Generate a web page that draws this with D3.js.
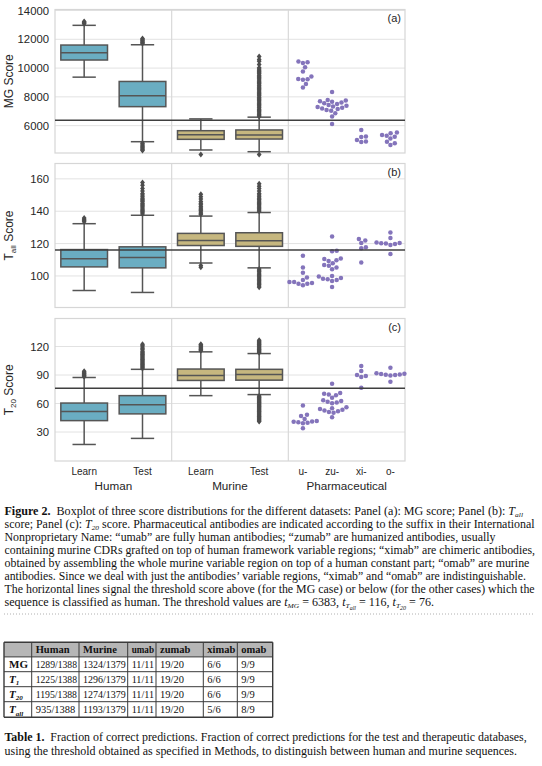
<!DOCTYPE html>
<html>
<head>
<meta charset="utf-8">
<script src="https://cdn.jsdelivr.net/npm/d3@7"></script>
<style>
  body { margin: 0; background: #fff; }
  svg { display: block; }
  text { white-space: pre; }
</style>
</head>
<body>
<script>
// ---- data ----
const groups = ["Human", "Murine", "Pharmaceutical"];
const groupCats = [["Learn", "Test"], ["Learn", "Test"], ["u-", "zu-", "xi-", "o-"]];

// box stats: [whisker low, q1, median, q3, whisker high] for Human Learn, Human Test, Murine Learn, Murine Test
const mgStats = [[9370, 10560, 11070, 11600, 12970], [4885, 7320, 8070, 9070, 11620],
                 [4310, 5050, 5370, 5650, 6470], [4190, 5070, 5350, 5700, 6590]];
const mgOutliers = [
  [13080, 13130, 13180, 13230],
  [11700, 11760, 11820, 11880, 11940, 12000, 12050, 4800, 4720, 4640, 4560, 4480, 4400, 4330, 4270],
  [3990],
  [6640, 6720, 6800, 6880, 6960, 7050, 7130, 7220, 7300, 7390, 7470, 7560, 7640, 7730, 7810, 7900, 7980,
   8070, 8150, 8240, 8320, 8410, 8490, 8580, 8660, 8750, 8830, 8920, 9000, 9090, 9170, 9260, 9340, 9430,
   9510, 9600, 9680, 9770, 9850, 9940, 10020, 10250, 10480, 10600, 10800, 3990]
];
// pharmaceutical antibodies: u-, zu-, xi-, o-
const mgPharma = [
  [10450, 10400, 10350, 10050, 9760, 9420, 9240, 9230, 9190, 8900, 8650],
  [8330, 7780, 7740, 7700, 7660, 7610, 7560, 7500, 7440, 7380, 7330, 7290, 7250, 7200, 7150, 7090, 7030, 6870, 6630, 6120],
  [5700, 5250, 5220, 5000, 4900, 4870],
  [5520, 5480, 5350, 5300, 5230, 5100, 4880, 4780, 4660]
];

const tallStats = [[91, 105.6, 110.6, 116.3, 132.3], [89.8, 105, 111.4, 118, 137.5],
                   [108, 118.8, 121.9, 126.3, 137], [105, 118.3, 121.7, 126.7, 139.2]];
const tallOutliers = [
  [133.5, 134.3, 135, 135.8],
  [138.3, 139, 139.8, 140.5, 141.3, 142, 142.8, 143.5, 144.3, 145, 145.8, 146.5, 147.3, 148, 149, 150, 151,
   152.5, 154, 156, 157.8],
  [138, 138.8, 139.6, 140.4, 141.2, 142, 143, 144, 145, 146, 147.5, 149, 150.5, 106.5, 105.3],
  [140, 140.8, 141.6, 142.4, 143.2, 144, 144.8, 145.6, 146.4, 147.2, 148, 149, 150, 151, 152.5, 154, 155.5, 157,
   104.3, 103.5, 102.7, 101.9, 101.1, 100.3, 99.5, 98.7, 97.9, 97.1, 96.3, 95.5, 94.7, 93.8, 93]
];
const tallPharma = [
  [96.3, 95.2, 99, 94.2, 96.3, 97.5, 95.2, 95.6, 105.2, 102, 112.5],
  [124.4, 115.6, 115.2, 109.7, 110.8, 109.3, 110.4, 107.9, 106.3, 105.2, 106.7, 104.2, 98.3, 99.6, 97.5, 98.7, 96.9, 100, 97.9, 93.1],
  [121.9, 122.9, 120.4, 117.7, 117.1, 108.3],
  [120.4, 119.8, 119.2, 120.2, 120.6, 126.9, 123.5, 113.5, 120]
];

const t20Stats = [[16.9, 42, 51.6, 60.5, 87.4], [23.3, 49.1, 58.7, 68.3, 96],
                  [68.3, 84.3, 89.6, 96.3, 114.4], [69.4, 84.6, 90.6, 96, 112.6]];
const t20Outliers = [
  [88.3, 89.2, 90.1, 91, 92, 93, 94],
  [97, 98, 99, 100, 101, 102, 103, 104, 105, 106, 107, 108, 109, 110, 111, 112, 113, 114, 115, 116.5, 118,
   119.5, 121, 122.5],
  [115.5, 116.5, 117.5, 118.5, 119.5, 120.5, 121.5, 122.5],
  [113.5, 114.5, 115.5, 116.5, 117.5, 118.5, 119.5, 120.5, 121.5, 122.5, 123.5, 124.5, 125.5, 126.5,
   68, 67, 66, 65, 64, 63, 62, 61, 60, 59, 58, 57, 56, 55, 54, 53, 52, 51, 50, 49, 48, 47, 46, 45, 44, 43, 42, 41]
];
const t20Pharma = [
  [41.7, 48.1, 40.3, 58, 47, 43.8, 39.2, 33.9, 40.8, 39.8, 41.2],
  [80.7, 71, 70.2, 69.5, 68.8, 63.5, 62.6, 61.8, 61, 60.2, 56, 55, 54.2, 53.4, 52.6, 51.8, 51, 50.2, 45.5, 66],
  [99.5, 94.2, 88.9, 89.9, 87.8, 76.5],
  [91.4, 90.6, 89.6, 89.9, 91.8, 97.7, 82.8, 90.2, 91]
];

const mgTicks = [6000, 8000, 10000, 12000, 14000];
const tallTicks = [100, 120, 140, 160];
const t20Ticks = [30, 60, 90, 120];
const thresholds = [6383, 116, 76];

const tableCols = ["", "Human", "Murine", "umab", "zumab", "ximab", "omab"];
const tableValues = [
  ["1289/1388", "1324/1379", "11/11", "19/20", "6/6", "9/9"],
  ["1225/1388", "1296/1379", "11/11", "19/20", "6/6", "9/9"],
  ["1195/1388", "1274/1379", "11/11", "19/20", "6/6", "9/9"],
  ["935/1388", "1193/1379", "11/11", "19/20", "5/6", "8/9"]
];

// ---- layout ----
const W = 542, H = 766;
const left = 55, right = 405;
const sans = "'Liberation Sans', Arial, sans-serif";
const serif = "'Liberation Serif', 'Times New Roman', serif";
const boxColors = ["#6aadc2", "#c6b77f"];
const pharmaColor = "#8474bb";
const lineColor = "#555555";

const svg = d3.select("body").append("svg")
    .attr("width", W)
    .attr("height", H);

const xGroup = d3.scaleBand().domain(groups).range([left, right]);
const xCats = groups.map((g, i) => d3.scaleBand()
    .domain(groupCats[i])
    .range([xGroup(g), xGroup(g) + xGroup.bandwidth()]));

const panels = [
  {label: "(a)", title: ["MG Score"], stats: mgStats, outliers: mgOutliers, pharma: mgPharma,
   domain: [4100, 14070], ticks: mgTicks, top: 9.5, bottom: 153},
  {label: "(b)", title: ["T", "all", " Score"], stats: tallStats, outliers: tallOutliers, pharma: tallPharma,
   domain: [80.5, 169.5], ticks: tallTicks, top: 163.5, bottom: 307.5},
  {label: "(c)", title: ["T", "20", " Score"], stats: t20Stats, outliers: t20Outliers, pharma: t20Pharma,
   domain: [-0.5, 149.5], ticks: t20Ticks, top: 318.5, bottom: 461}
];

// simple beeswarm: place each point as close to the centre as possible without overlap
function swarm(values, cx, y, r) {
  const placed = [];
  values.slice().sort((a, b) => a - b).forEach(v => {
    const py = y(v);
    const cands = [cx];
    placed.forEach(p => {
      const dy = Math.abs(p.y - py);
      if (dy < 2 * r) {
        const dx = Math.sqrt(4 * r * r - dy * dy);
        cands.push(p.x + dx, p.x - dx);
      }
    });
    cands.sort((a, b) => Math.abs(a - cx) - Math.abs(b - cx));
    const x = cands.find(c => placed.every(p => (p.x - c) ** 2 + (p.y - py) ** 2 >= 4 * r * r - 0.01));
    placed.push({x: x, y: py});
  });
  return placed;
}

panels.forEach((p, pi) => {
  const y = d3.scaleLinear().domain(p.domain).range([p.bottom, p.top]);
  const g = svg.append("g");

  // grid
  g.selectAll(".grid").data(p.ticks).enter().append("line")
      .attr("x1", left).attr("x2", right)
      .attr("y1", d => y(d)).attr("y2", d => y(d))
      .attr("stroke", "#e2e2e2").attr("stroke-width", 1);
  g.selectAll(".sep").data(groups.slice(1)).enter().append("line")
      .attr("x1", d => xGroup(d)).attr("x2", d => xGroup(d))
      .attr("y1", p.top).attr("y2", p.bottom)
      .attr("stroke", "#d9d9d9").attr("stroke-width", 1.2);
  g.append("rect")
      .attr("x", left).attr("y", p.top)
      .attr("width", right - left).attr("height", p.bottom - p.top)
      .attr("fill", "none").attr("stroke", "#d6d6d6").attr("stroke-width", 1.2);

  // boxes for Human and Murine
  p.stats.forEach((s, i) => {
    const gi = Math.floor(i / 2);
    const xs = xCats[gi];
    const cat = groupCats[gi][i % 2];
    const cx = xs(cat) + xs.bandwidth() / 2;
    const bw = xs.bandwidth() * 0.8;
    const bg = g.append("g");
    bg.append("line").attr("x1", cx).attr("x2", cx).attr("y1", y(s[0])).attr("y2", y(s[1]))
        .attr("stroke", lineColor).attr("stroke-width", 1.5);
    bg.append("line").attr("x1", cx).attr("x2", cx).attr("y1", y(s[3])).attr("y2", y(s[4]))
        .attr("stroke", lineColor).attr("stroke-width", 1.5);
    [s[0], s[4]].forEach(v => bg.append("line")
        .attr("x1", cx - bw / 4).attr("x2", cx + bw / 4).attr("y1", y(v)).attr("y2", y(v))
        .attr("stroke", lineColor).attr("stroke-width", 1.5));
    bg.append("rect")
        .attr("x", cx - bw / 2).attr("y", y(s[3]))
        .attr("width", bw).attr("height", y(s[1]) - y(s[3]))
        .attr("fill", boxColors[gi]).attr("stroke", lineColor).attr("stroke-width", 1.5);
    bg.append("line").attr("x1", cx - bw / 2).attr("x2", cx + bw / 2).attr("y1", y(s[2])).attr("y2", y(s[2]))
        .attr("stroke", lineColor).attr("stroke-width", 1.5);
    bg.selectAll("path").data(p.outliers[i]).enter().append("path")
        .attr("d", "M0,-3L2.4,0L0,3L-2.4,0Z")
        .attr("transform", d => "translate(" + cx + "," + y(d) + ")")
        .attr("fill", "#4d4d4d");
  });

  // swarm points for pharmaceutical antibodies
  const xp = xCats[2];
  p.pharma.forEach((vals, k) => {
    const cx = xp(groupCats[2][k]) + xp.bandwidth() / 2;
    g.append("g").selectAll("circle").data(swarm(vals, cx, y, 2.35)).enter().append("circle")
        .attr("cx", d => d.x).attr("cy", d => d.y).attr("r", 2.25)
        .attr("fill", pharmaColor);
  });

  // threshold
  g.append("line")
      .attr("x1", left).attr("x2", right)
      .attr("y1", y(thresholds[pi])).attr("y2", y(thresholds[pi]))
      .attr("stroke", "#3f3f3f").attr("stroke-width", 1.5);

  // y axis
  const ax = g.append("g")
      .attr("transform", "translate(" + left + ",0)")
      .call(d3.axisLeft(y).tickValues(p.ticks).tickFormat(d3.format("d")).tickSize(0).tickPadding(6));
  ax.select(".domain").remove();
  ax.selectAll("text").attr("font-family", sans).attr("font-size", "11.3px").attr("fill", "#262626");

  // y label
  const yl = g.append("text")
      .attr("transform", "translate(13.3," + (p.top + p.bottom) / 2 + ") rotate(-90)")
      .attr("text-anchor", "middle")
      .attr("font-family", sans).attr("font-size", "12px").attr("fill", "#262626");
  if (p.title.length === 1) {
    yl.text(p.title[0]);
  } else {
    yl.append("tspan").text(p.title[0]);
    yl.append("tspan").attr("font-size", "8px").attr("dy", 3).text(p.title[1]);
    yl.append("tspan").attr("dy", -3).text(p.title[2]);
  }

  // panel label
  g.append("text")
      .attr("x", 401).attr("y", p.top + 12.5)
      .attr("text-anchor", "end")
      .attr("font-family", sans).attr("font-size", "11px").attr("fill", "#262626")
      .text(p.label);
});

// x tick labels and group labels
const xl = svg.append("g").attr("font-family", sans).attr("fill", "#262626");
groups.forEach((gname, gi) => {
  const xs = xCats[gi];
  groupCats[gi].forEach(c => {
    xl.append("text")
        .attr("x", xs(c) + xs.bandwidth() / 2).attr("y", 474.5)
        .attr("text-anchor", "middle").attr("font-size", "10px")
        .text(c);
  });
  xl.append("text")
      .attr("x", xGroup(gname) + xGroup.bandwidth() / 2).attr("y", 490)
      .attr("text-anchor", "middle").attr("font-size", "11.7px")
      .text(gname);
});

// ---- captions ----
function richLine(parent, segs, x, yb, size, endX) {
  const t = parent.append("text")
      .attr("x", x).attr("y", yb)
      .attr("font-family", serif).attr("font-size", size + "px").attr("fill", "#111");
  const shifts = {"": 0, b: 0, i: 0, isub: 2, isub2: 3.5};
  let cur = 0;
  segs.forEach(s => {
    const st = s[1] || "";
    const target = shifts[st];
    const ts = t.append("tspan").text(s[0]);
    if (target !== cur) { ts.attr("dy", target - cur); cur = target; }
    if (st === "b") ts.attr("font-weight", "bold");
    if (st === "i") ts.attr("font-style", "italic");
    if (st === "isub") ts.attr("font-style", "italic").attr("font-size", (size * 0.62) + "px");
    if (st === "isub2") ts.attr("font-style", "italic").attr("font-size", (size * 0.5) + "px");
  });
  if (endX) t.attr("textLength", endX - x).attr("lengthAdjust", "spacingAndGlyphs");
  return t;
}

const captionLines = [
  [["Figure 2.", "b"], ["  Boxplot of three score distributions for the different datasets: Panel (a): MG score; Panel (b): "], ["T", "i"], ["all", "isub"]],
  [["score; Panel (c): "], ["T", "i"], ["20", "isub"], [" score. Pharmaceutical antibodies are indicated according to the suffix in their International"]],
  [["Nonproprietary Name: “umab” are fully human antibodies; “zumab” are humanized antibodies, usually"]],
  [["containing murine CDRs grafted on top of human framework variable regions; “ximab” are chimeric antibodies,"]],
  [["obtained by assembling the whole murine variable region on top of a human constant part; “omab” are murine"]],
  [["antibodies. Since we deal with just the antibodies’ variable regions, “ximab” and “omab” are indistinguishable."]],
  [["The horizontal lines signal the threshold score above (for the MG case) or below (for the other cases) which the"]],
  [["sequence is classified as human. The threshold values are "], ["t", "i"], ["MG", "isub"], [" = 6383, "],
   ["t", "i"], ["T", "isub"], ["all", "isub2"], [" = 116, "], ["t", "i"], ["T", "isub"], ["20", "isub2"], [" = 76."]]
];
const captionEnds = [523, 534.6, 495.5, 535, 529.4, 526, 534.6, 434];
captionLines.forEach((segs, i) => richLine(svg, segs, 4.5, 514.5 + i * 13.1, 11.5, captionEnds[i]));

// dotted separator
svg.append("line")
    .attr("x1", 4).attr("x2", 535).attr("y1", 614).attr("y2", 614)
    .attr("stroke", "#b0b0b0").attr("stroke-width", 1).attr("stroke-dasharray", "1,2");

// ---- table ----
const colEdges = [4, 31.7, 79, 127.7, 156, 203.3, 237.3, 272.7];
const rowEdges = [642.3, 656.9, 671.7, 686.7, 701.7, 717.3];
const tg = svg.append("g");
tg.append("rect")
    .attr("x", colEdges[0]).attr("y", rowEdges[0])
    .attr("width", colEdges[7] - colEdges[0]).attr("height", rowEdges[1] - rowEdges[0])
    .attr("fill", "#b6b6b6");
tg.selectAll(".v").data(colEdges).enter().append("line")
    .attr("x1", d => d).attr("x2", d => d).attr("y1", rowEdges[0]).attr("y2", rowEdges[5])
    .attr("stroke", "#3a3a3a").attr("stroke-width", (d, i) => (i === 0 || i === 7) ? 1.4 : 1);
tg.selectAll(".h").data(rowEdges).enter().append("line")
    .attr("x1", colEdges[0]).attr("x2", colEdges[7]).attr("y1", d => d).attr("y2", d => d)
    .attr("stroke", "#3a3a3a").attr("stroke-width", (d, i) => (i === 0 || i === 5) ? 1.4 : 1);

// shrink a cell text to fit its column if needed
function fitCell(t, maxW) {
  const w = t.node().getComputedTextLength();
  if (w > maxW) t.attr("textLength", maxW).attr("lengthAdjust", "spacingAndGlyphs");
}

tableCols.forEach((c, j) => {
  if (!c) return;
  const t = tg.append("text")
      .attr("x", colEdges[j] + 4).attr("y", rowEdges[1] - 3.8)
      .attr("font-family", serif).attr("font-size", "10.5px").attr("font-weight", "bold").attr("fill", "#111")
      .text(c);
  fitCell(t, colEdges[j + 1] - colEdges[j] - 6);
});
const rowLabels = [[["MG", "b"]], [["T", "bi"], ["1", "bsub"]], [["T", "bi"], ["20", "bsub"]], [["T", "bi"], ["all", "bsub"]]];
rowLabels.forEach((segs, r) => {
  const t = tg.append("text")
      .attr("x", colEdges[0] + 5).attr("y", rowEdges[r + 2] - 4)
      .attr("font-family", serif).attr("font-size", "11px").attr("font-weight", "bold").attr("fill", "#111");
  segs.forEach(s => {
    const ts = t.append("tspan").text(s[0]);
    if (s[1] === "bi") ts.attr("font-style", "italic");
    if (s[1] === "bsub") ts.attr("font-style", "italic").attr("font-size", "7px").attr("dy", 2.5);
  });
});
tableValues.forEach((row, r) => {
  row.forEach((v, j) => {
    const t = tg.append("text")
        .attr("x", colEdges[j + 1] + 4).attr("y", rowEdges[r + 2] - 4)
        .attr("font-family", serif).attr("font-size", "10.5px").attr("fill", "#111")
        .text(v);
    fitCell(t, colEdges[j + 2] - colEdges[j + 1] - 6);
  });
});

// table caption
richLine(svg, [["Table 1.", "b"], ["  Fraction of correct predictions. Fraction of correct predictions for the test and therapeutic databases,"]],
    4.5, 740.5, 12, 526.7);
richLine(svg, [["using the threshold obtained as specified in Methods, to distinguish between human and murine sequences."]],
    4.5, 755, 12, 517);
</script>
</body>
</html>
